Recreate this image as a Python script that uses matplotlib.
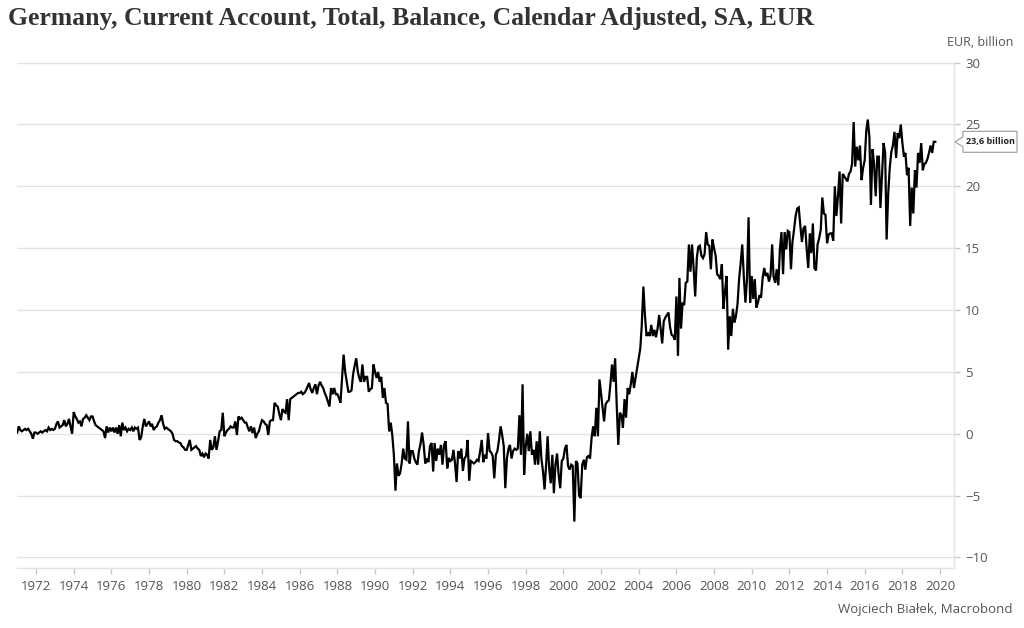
import numpy as np
import pandas as pd
import matplotlib
matplotlib.use("Agg")
import matplotlib.pyplot as plt
import matplotlib.dates as mdates
import matplotlib.transforms as mtransforms
from matplotlib.patches import Polygon

# monthly current account balance, EUR billion, Jan 1971 - Oct 2019
balance = [
    0.1, 0.6, 0.3, 0.2, 0.3, 0.4, 0.3, 0.4, 0.2, 0.0, -0.4, 0.1,          # 1971
    0.1, 0.0, 0.1, 0.2, 0.1, 0.2, 0.3, 0.2, 0.5, 0.3, 0.4, 0.3,           # 1972
    0.4, 0.8, 1.0, 0.5, 0.6, 0.7, 1.1, 0.6, 0.8, 1.2, 0.6, 0.0,           # 1973
    1.75, 1.4, 1.2, 0.9, 1.0, 0.6, 1.2, 1.3, 1.5, 1.3, 1.1, 1.4,          # 1974
    1.4, 1.0, 0.7, 0.6, 0.5, 0.4, 0.3, 0.2, -0.35, 0.6, 0.1, 0.5,         # 1975
    0.2, 0.5, 0.1, 0.5, 0.0, 0.7, -0.2, 0.9, 0.3, 0.5, 0.2, 0.4,          # 1976
    0.3, 0.5, 0.2, 0.5, 0.4, 0.5, -0.5, -0.3, 0.6, 1.2, 0.6, 0.8,         # 1977
    1.0, 0.6, 0.8, 0.3, 0.5, 0.6, 0.9, 1.1, 1.5, 0.8, 0.4, 0.5,           # 1978
    0.4, 0.3, 0.2, 0.0, -0.5, -0.6, -0.6, -0.7, -0.75, -1.0, -1.1, -1.3,  # 1979
    -1.3, -0.9, -0.5, -1.3, -1.2, -1.1, -1.0, -1.2, -1.3, -1.8, -1.6, -1.9,  # 1980
    -1.6, -1.7, -2.0, -0.5, -1.3, -1.1, -0.2, -1.3, -0.6, 0.2, 0.3, 1.7,  # 1981
    -0.2, 0.1, 0.3, 0.4, 0.6, 0.5, 0.5, 1.0, -0.1, 1.4, 1.2, 1.3,         # 1982
    1.1, 0.9, 0.9, 0.5, 0.2, 0.6, 0.05, 0.5, -0.35, 0.0, 0.2, 0.7,        # 1983
    1.1, 1.0, 0.8, 0.7, -0.1, 1.0, 1.1, 1.1, 2.5, 2.3, 2.2, 1.6,          # 1984
    1.1, 2.0, 1.8, 1.7, 2.8, 1.1, 2.8, 2.9, 3.0, 3.1, 3.2, 3.3,           # 1985
    3.3, 3.4, 3.2, 3.3, 3.5, 3.8, 4.1, 3.6, 3.3, 3.7, 4.0, 3.2,           # 1986
    3.9, 4.2, 3.9, 3.7, 3.3, 3.0, 2.6, 2.2, 3.7, 3.2, 3.7, 3.2,           # 1987
    3.2, 2.9, 2.5, 4.5, 6.4, 5.0, 4.2, 3.4, 3.4, 3.5, 4.8, 5.5,           # 1988
    6.1, 5.0, 4.5, 4.2, 5.6, 4.2, 4.6, 4.6, 3.4, 3.6, 3.7, 5.6,           # 1989
    5.0, 4.5, 5.0, 4.2, 4.6, 2.9, 3.7, 2.5, 2.4, 0.2, 0.9, -0.1,          # 1990
    -1.7, -4.6, -2.4, -3.4, -3.2, -2.4, -1.2, -2.0, -2.1, 1.0, -2.4, -1.4,  # 1991
    -1.4, -2.0, -2.3, -2.5, -1.4, -0.8, 0.1, -0.9, -2.4, -2.0, -2.3, -1.0,  # 1992
    -0.75, -3.05, -0.75, -2.2, -1.2, -1.7, -0.9, -2.5, -0.9, -0.6, -2.8, -1.95,  # 1993
    -2.2, -2.1, -1.3, -2.4, -3.9, -1.4, -2.0, -1.2, -3.0, -2.0, -1.8, -0.5,  # 1994
    -3.8, -2.2, -2.3, -2.4, -2.3, -2.1, -2.2, -1.4, -0.5, -2.3, -1.7, -2.0,  # 1995
    0.05, -1.4, -1.5, -1.8, -3.6, -1.7, -1.4, -0.5, 0.6, -0.1, -1.0, -4.4,  # 1996
    -2.0, -1.2, -0.9, -2.0, -1.4, -1.2, -1.3, -1.2, 1.5, -1.7, 4.0, -3.3,  # 1997
    -1.0, 0.0, -1.4, 0.2, -1.7, -1.3, -2.5, -0.6, -2.5, 0.2, -2.0, -3.0,  # 1998
    -4.5, -2.5, -0.2, -2.8, -4.0, -1.7, -4.8, -2.5, -1.6, -3.3, -4.4, -2.2,  # 1999
    -2.0, -1.2, -0.9, -2.6, -2.9, -2.5, -2.6, -7.1, -2.2, -2.4, -5.0, -5.2,  # 2000
    -2.5, -2.1, -2.9, -1.9, -1.8, -2.0, -0.35, 0.6, -0.2, 2.1, -0.2, 4.4,  # 2001
    3.2, 2.0, 1.0, 2.4, 2.6, 2.7, 4.0, 5.6, 4.2, 6.1, 2.3, -0.9,          # 2002
    1.7, 1.5, 0.5, 2.8, 1.3, 3.7, 3.2, 4.0, 5.0, 3.7, 4.5, 5.3,           # 2003
    6.1, 6.9, 8.8, 11.9, 9.6, 7.9, 8.2, 7.9, 8.8, 7.9, 8.4, 7.8,          # 2004
    8.5, 9.6, 8.5, 7.3, 9.1, 9.4, 9.6, 9.8, 8.6, 8.0, 7.9, 7.6,           # 2005
    11.1, 6.3, 12.6, 8.5, 10.6, 10.4, 12.2, 12.3, 15.3, 13.1, 15.3, 13.4,  # 2006
    11.1, 14.2, 15.1, 15.2, 14.4, 14.2, 14.5, 16.3, 15.3, 15.2, 13.3, 15.7,  # 2007
    15.0, 14.4, 12.9, 12.75, 12.5, 13.7, 10.1, 11.5, 12.75, 6.8, 9.5, 7.9,  # 2008
    10.1, 9.0, 9.5, 10.5, 12.5, 13.8, 15.3, 12.7, 10.6, 12.5, 17.5, 10.6,  # 2009
    12.75, 10.9, 12.5, 10.2, 10.6, 11.2, 11.0, 12.6, 13.4, 12.75, 13.0, 12.3,  # 2010
    12.8, 15.3, 12.7, 12.2, 13.3, 12.0, 14.9, 16.3, 12.9, 16.3, 14.9, 16.4,  # 2011
    16.3, 13.3, 15.5, 16.5, 17.6, 18.2, 18.3, 16.8, 15.5, 16.6, 16.8, 15.0,  # 2012
    13.4, 16.2, 14.6, 17.0, 13.4, 13.2, 15.3, 15.8, 16.5, 19.1, 17.8, 17.7,  # 2013
    15.4, 16.1, 16.2, 16.2, 15.6, 20.0, 17.6, 19.2, 21.2, 17.0, 21.0, 20.8,  # 2014
    20.6, 20.4, 21.0, 21.2, 21.8, 25.2, 21.6, 23.2, 22.1, 23.3, 20.5, 21.5,  # 2015
    22.1, 24.5, 25.4, 24.0, 18.5, 23.0, 21.8, 19.2, 22.4, 22.4, 18.25, 20.8,  # 2016
    23.5, 22.7, 15.7, 19.4, 21.5, 22.8, 23.3, 24.4, 22.3, 24.3, 23.9, 25.0,  # 2017
    23.5, 22.4, 22.7, 20.9, 21.5, 16.8, 19.9, 17.8, 21.3, 19.9, 22.7, 21.9,  # 2018
    23.5, 21.3, 21.8, 21.9, 22.2, 22.7, 23.3, 22.7, 23.6, 23.6,              # 2019
]
start_month = "1971-01"
y_ticks = [-10, -5, 0, 5, 10, 15, 20, 25, 30]

title = "Germany, Current Account, Total, Balance, Calendar Adjusted, SA, EUR"
unit_label = "EUR, billion"
source = "Wojciech Białek, Macrobond"

dates = pd.date_range(start_month, periods=len(balance), freq="MS")
last = balance[-1]

grid_c = "#e3e3e3"
text_c = "#555555"

fig = plt.figure(figsize=(10.24, 6.28), dpi=100)
ax = fig.add_axes([17 / 1024, 1 - 568 / 628, 937 / 1024, (568 - 62) / 628])

ax.plot(dates, balance, color="black", lw=1.6, solid_joinstyle="miter")

ax.set_xlim(pd.Timestamp("1970-12-28"), pd.Timestamp("2020-09-28"))
ax.set_ylim(-10.85, 30.05)

ax.yaxis.tick_right()
ax.set_yticks(y_ticks)
ax.grid(axis="y", color=grid_c, lw=1)
ax.set_axisbelow(True)
ax.xaxis.set_major_locator(mdates.YearLocator(2))
ax.xaxis.set_major_formatter(mdates.DateFormatter("%Y"))

for s in ["left", "top"]:
    ax.spines[s].set_visible(False)
for s in ["right", "bottom"]:
    ax.spines[s].set_color(grid_c)
    ax.spines[s].set_linewidth(1)

ax.tick_params(axis="both", colors="#c8c8c8", length=4, width=1,
               labelcolor=text_c, labelsize=9.5)
ax.tick_params(axis="y", pad=4)
ax.tick_params(axis="x", pad=5)
for lab in ax.get_xticklabels() + ax.get_yticklabels():
    lab.set_family("Open Sans")

# callout for the last value
trans = mtransforms.blended_transform_factory(ax.transAxes, ax.transData)
px = mtransforms.Affine2D().scale(1 / 100) + fig.dpi_scale_trans + \
    mtransforms.ScaledTranslation(1, last, trans)
callout = Polygon([(1, 0), (9, 5), (9, 10.5), (63, 10.5), (63, -10.5), (9, -10.5), (9, -5)],
                  closed=True, transform=px, facecolor="white", edgecolor="#9a9a9a",
                  lw=0.8, clip_on=False, zorder=5)
ax.add_patch(callout)
ax.annotate(f"{last:.1f}".replace(".", ",") + " billion", xy=(1, last), xycoords=trans,
            xytext=(36 * 0.72, 0), textcoords="offset points", ha="center", va="center",
            fontsize=6.5, fontweight="bold", color="#222222", family="Open Sans",
            zorder=6, annotation_clip=False)

fig.text(8 / 1024, 1 - 19 / 628, title, fontsize=18.5, fontweight="bold",
         family="Liberation Serif", color="#333333", va="center", ha="left")
fig.text(1013 / 1024, 1 - 43 / 628, unit_label, fontsize=9, color=text_c,
         family="Open Sans", ha="right", va="center")
fig.text(1013 / 1024, 1 - 609 / 628, source, fontsize=9.5, color=text_c,
         family="Open Sans", ha="right", va="center")

fig.savefig("out.png", dpi=100)
